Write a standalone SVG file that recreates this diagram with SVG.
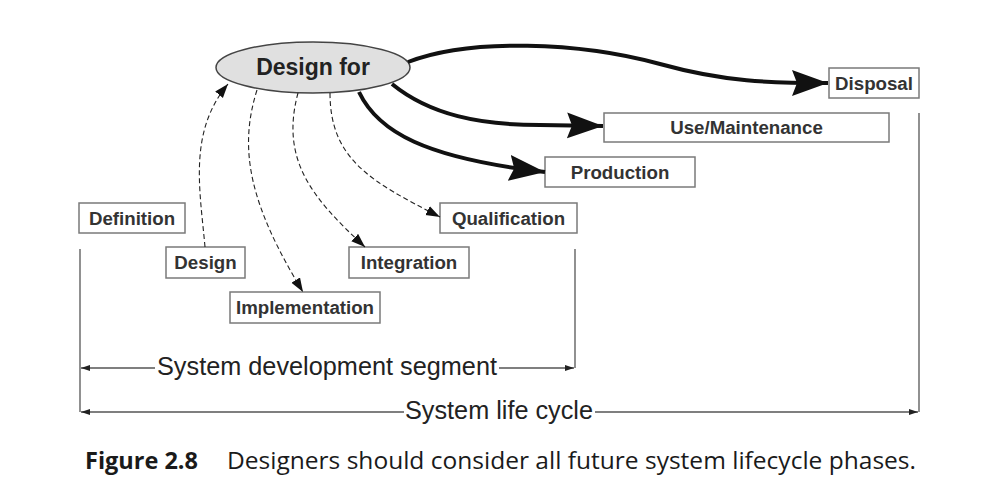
<svg xmlns="http://www.w3.org/2000/svg" width="1000" height="496" viewBox="0 0 1000 496">
<style>
  .box { fill: #ffffff; stroke: #7a7a7a; stroke-width: 1.5; }
  .lbl { font-family: "Liberation Sans", Arial, sans-serif; font-weight: bold; font-size: 18.7px; fill: #333; text-anchor: middle; }
  .thick { fill: none; stroke: #111; stroke-width: 4; }
  .dash { fill: none; stroke: #222; stroke-width: 1.1; stroke-dasharray: 5 3; }
  .bracket { fill: none; stroke: #555; stroke-width: 1.3; }
  .seg { font-family: "Liberation Sans", Arial, sans-serif; font-size: 25px; fill: #222; }
  .cap { font-family: "Open Sans", "Noto Sans", sans-serif; font-size: 23.5px; fill: #1a1a1a; }
</style>
<defs>
  <marker id="big" markerUnits="userSpaceOnUse" markerWidth="40" markerHeight="30" refX="36" refY="13" orient="auto">
    <path d="M0,0 L36,13 L0,26 L5,13 z" fill="#111"/>
  </marker>
  <marker id="small" markerUnits="userSpaceOnUse" markerWidth="16" markerHeight="12" refX="14" refY="5" orient="auto">
    <path d="M0,0 L14,5 L0,10 z" fill="#111"/>
  </marker>
  <marker id="tiny" markerUnits="userSpaceOnUse" markerWidth="10" markerHeight="8" refX="9" refY="3" orient="auto">
    <path d="M0,0 L9,3 L0,6 z" fill="#222"/>
  </marker>
</defs>

<g id="design-for">
  <ellipse cx="313" cy="67.5" rx="97" ry="25.5" fill="#e0e0e0" stroke="#444" stroke-width="1.5"/>
  <text x="313" y="75" font-family="Liberation Sans, Arial, sans-serif" font-weight="bold" font-size="23" fill="#222" text-anchor="middle">Design for</text>
</g>

<g id="definition"><rect class="box" x="79" y="203" width="106" height="30"/><text class="lbl" x="132" y="224.5">Definition</text></g>
<g id="design"><rect class="box" x="166" y="247" width="79" height="31"/><text class="lbl" x="205.5" y="269">Design</text></g>
<g id="implementation"><rect class="box" x="230" y="292" width="150" height="31"/><text class="lbl" x="305" y="314">Implementation</text></g>
<g id="integration"><rect class="box" x="349" y="247" width="120" height="31"/><text class="lbl" x="409" y="269">Integration</text></g>
<g id="qualification"><rect class="box" x="440" y="203" width="137" height="30"/><text class="lbl" x="508.5" y="224.5">Qualification</text></g>
<g id="production"><rect class="box" x="545" y="157" width="150" height="30"/><text class="lbl" x="620" y="178.5">Production</text></g>
<g id="use-maintenance"><rect class="box" x="604" y="113" width="285" height="29"/><text class="lbl" x="746.5" y="134">Use/Maintenance</text></g>
<g id="disposal"><rect class="box" x="829" y="68" width="90" height="30"/><text class="lbl" x="874" y="89.5">Disposal</text></g>

<g id="connectors">
  <path class="thick" d="M408,62 C470,38 580,42 660,64 C725,82 770,83 828,83" marker-end="url(#big)"/>
  <path class="thick" d="M392,84 C430,115 480,125 540,125 L603,126" marker-end="url(#big)"/>
  <path class="thick" d="M359,92 C378,132 425,158 545,172" marker-end="url(#big)"/>

  <path class="dash" d="M205,247 C200,190 188,132 228,84" marker-end="url(#small)"/>
  <path class="dash" d="M257,90 C238,150 250,205 303,292" marker-end="url(#small)"/>
  <path class="dash" d="M298,93 C280,160 312,198 365,247" marker-end="url(#small)"/>
  <path class="dash" d="M330,93 C330,160 372,182 440,217" marker-end="url(#small)"/>

  <path class="bracket" d="M80,249 V412"/>
  <path class="bracket" d="M575,249 V368"/>
  <path class="bracket" d="M919,113 V412"/>
  <path class="bracket" d="M155,368 H81" marker-end="url(#tiny)"/>
  <path class="bracket" d="M499,368 H574" marker-end="url(#tiny)"/>
  <path class="bracket" d="M404,412 H81" marker-end="url(#tiny)"/>
  <path class="bracket" d="M595,412 H918" marker-end="url(#tiny)"/>
</g>

<g id="labels">
  <text class="seg" x="157" y="375" textLength="340" lengthAdjust="spacingAndGlyphs">System development segment</text>
  <text class="seg" x="405" y="419" textLength="188" lengthAdjust="spacingAndGlyphs">System life cycle</text>
</g>

<g id="caption">
  <text class="cap" x="85" y="469" font-weight="bold" textLength="113" lengthAdjust="spacingAndGlyphs">Figure 2.8</text>
  <text class="cap" x="227" y="469" textLength="689" lengthAdjust="spacingAndGlyphs">Designers should consider all future system lifecycle phases.</text>
</g>
</svg>
